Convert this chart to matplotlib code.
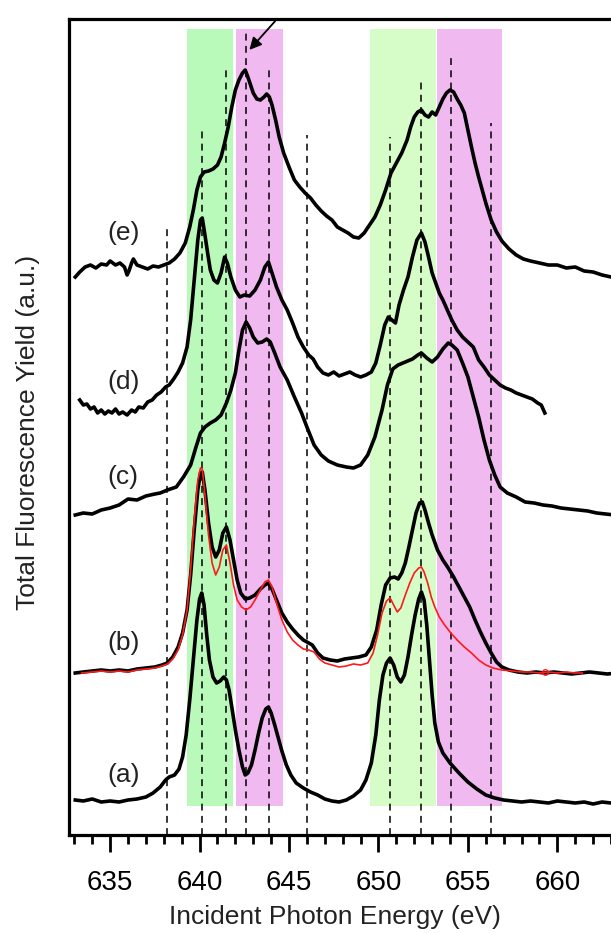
import numpy as np
import matplotlib
matplotlib.use("Agg")
import matplotlib.pyplot as plt
from matplotlib.ticker import MultipleLocator

plt.rcParams['font.family'] = ['Liberation Sans', 'DejaVu Sans']

# ---- spectra: energy (eV) and offset intensity (a.u.) ----
e_a = [633.05, 633.5, 634.0, 634.5, 635.0, 635.5, 636.0, 636.5, 637.0, 637.4, 637.8, 638.1,
       638.3, 638.6, 638.85, 639.05, 639.25, 639.45, 639.65, 639.85, 640.0, 640.12, 640.25,
       640.4, 640.55, 640.75, 640.95, 641.15, 641.35, 641.5, 641.65, 641.8, 642.0, 642.2,
       642.4, 642.55, 642.7, 642.9, 643.1, 643.3, 643.5, 643.7, 643.85, 644.0, 644.2, 644.4,
       644.6, 644.85, 645.1, 645.4, 645.8, 646.2, 646.6, 647.0, 647.4, 647.8, 648.2, 648.6,
       649.0, 649.3, 649.6, 649.85, 650.05, 650.25, 650.45, 650.65, 650.85, 651.05, 651.25,
       651.45, 651.65, 651.85, 652.05, 652.25, 652.4, 652.55, 652.7, 652.85, 653.0, 653.15,
       653.35, 653.6, 654.0, 654.5, 655.0, 655.5, 656.0, 656.5, 657.0, 657.5, 658.0, 658.5,
       659.0, 659.5, 660.0, 660.5, 661.0, 661.5, 662.0, 662.5, 663.0, 663.5, 664.9]
i_a = [0.35, 0.34, 0.36, 0.33, 0.34, 0.33, 0.35, 0.36, 0.38, 0.42, 0.48, 0.55,
       0.58, 0.60, 0.66, 0.78, 1.00, 1.35, 1.75, 2.15, 2.36, 2.42, 2.30,
       2.00, 1.75, 1.58, 1.52, 1.54, 1.58, 1.55, 1.45, 1.28, 1.05, 0.85,
       0.68, 0.60, 0.62, 0.70, 0.85, 1.02, 1.17, 1.26, 1.28, 1.22, 1.10, 0.97,
       0.84, 0.70, 0.60, 0.52, 0.47, 0.43, 0.40, 0.36, 0.34, 0.33, 0.35, 0.39,
       0.45, 0.55, 0.72, 1.00, 1.35, 1.60, 1.72, 1.77, 1.70, 1.58, 1.53,
       1.60, 1.78, 2.00, 2.20, 2.36, 2.43, 2.35, 2.10, 1.75, 1.40, 1.12,
       0.93, 0.82, 0.72, 0.62, 0.53, 0.46, 0.40, 0.37, 0.35, 0.34, 0.33, 0.34,
       0.33, 0.32, 0.34, 0.33, 0.32, 0.33, 0.31, 0.33, 0.32, 0.33, 0.33]

e_b = [633.05, 633.5, 634.0, 634.5, 635.0, 635.5, 636.0, 636.5, 637.0, 637.5, 637.9, 638.2,
       638.5, 638.8, 639.05, 639.3, 639.5, 639.7, 639.9, 640.05, 640.15, 640.3, 640.5, 640.7,
       640.9, 641.1, 641.3, 641.5, 641.7, 641.9, 642.1, 642.3, 642.55, 642.8, 643.1, 643.4,
       643.65, 643.85, 644.05, 644.3, 644.6, 644.9, 645.2, 645.5, 645.8, 646.0, 646.3, 646.6,
       646.9, 647.3, 647.7, 648.1, 648.5, 648.9, 649.3, 649.6, 649.9, 650.15, 650.4, 650.65,
       650.9, 651.1, 651.3, 651.5, 651.7, 651.9, 652.1, 652.3, 652.45, 652.6, 652.8, 653.0,
       653.3, 653.6, 653.9, 654.2, 654.5, 654.8, 655.1, 655.4, 655.7, 656.0, 656.3, 656.6,
       656.9, 657.3, 657.8, 658.3, 658.8, 659.3, 659.8, 660.3, 660.8, 661.3, 661.8, 662.3,
       662.8, 663.3, 664.9]
i_b = [1.62, 1.63, 1.64, 1.65, 1.64, 1.65, 1.64, 1.66, 1.67, 1.68, 1.70, 1.72,
       1.78, 1.88, 2.02, 2.25, 2.60, 3.05, 3.45, 3.62, 3.63, 3.45, 3.12, 2.88,
       2.78, 2.85, 3.02, 3.08, 2.95, 2.75, 2.55, 2.42, 2.36, 2.37, 2.40, 2.46,
       2.50, 2.52, 2.46, 2.35, 2.22, 2.13, 2.06, 2.00, 1.95, 1.93, 1.90, 1.82,
       1.77, 1.75, 1.74, 1.76, 1.77, 1.78, 1.80, 1.88, 2.05, 2.30, 2.50, 2.57,
       2.58, 2.56, 2.62, 2.72, 2.88, 3.05, 3.22, 3.32, 3.33, 3.25, 3.12, 3.00,
       2.85, 2.75, 2.67, 2.58, 2.48, 2.38, 2.28, 2.15, 2.03, 1.92, 1.82, 1.73,
       1.68, 1.65, 1.63, 1.62, 1.63, 1.62, 1.63, 1.62, 1.61, 1.62, 1.63, 1.62,
       1.61, 1.62, 1.62]

# red reference spectrum drawn over (b)
e_ref = [633.4, 634.0, 634.5, 635.0, 635.5, 636.0, 636.5, 637.0, 637.5, 637.9, 638.2, 638.5,
         638.8, 639.05, 639.3, 639.5, 639.7, 639.9, 640.05, 640.15, 640.3, 640.5, 640.7, 640.9,
         641.1, 641.3, 641.5, 641.7, 641.9, 642.1, 642.35, 642.6, 642.85, 643.1, 643.4, 643.65,
         643.85, 644.05, 644.3, 644.6, 644.9, 645.2, 645.5, 645.8, 646.1, 646.4, 646.7, 647.0,
         647.4, 647.8, 648.2, 648.6, 649.0, 649.4, 649.7, 649.95, 650.2, 650.45, 650.65, 650.85,
         651.05, 651.25, 651.5, 651.75, 652.0, 652.25, 652.4, 652.55, 652.75, 652.95, 653.15,
         653.4, 653.7, 654.0, 654.4, 654.8, 655.2, 655.6, 656.0, 656.4, 656.9, 657.5, 658.0,
         658.5, 659.0, 659.5, 660.0, 660.5, 661.0, 661.4]
i_ref = [1.62, 1.63, 1.64, 1.63, 1.64, 1.63, 1.65, 1.66, 1.67, 1.69, 1.71, 1.76,
         1.85, 2.00, 2.25, 2.65, 3.15, 3.55, 3.67, 3.66, 3.40, 3.00, 2.72, 2.60,
         2.68, 2.85, 2.90, 2.72, 2.50, 2.35, 2.28, 2.25, 2.28, 2.35, 2.45, 2.53,
         2.55, 2.48, 2.32, 2.15, 2.03, 1.95, 1.90, 1.86, 1.85, 1.83, 1.76, 1.72,
         1.70, 1.68, 1.69, 1.71, 1.70, 1.72, 1.82, 2.00, 2.22, 2.34, 2.37, 2.30,
         2.23, 2.27, 2.40, 2.52, 2.62, 2.67, 2.68, 2.63, 2.52, 2.38, 2.28,
         2.18, 2.10, 2.03, 1.95, 1.88, 1.82, 1.75, 1.70, 1.67, 1.65, 1.64, 1.63,
         1.63, 1.62, 1.63, 1.62, 1.63, 1.62, 1.62]

e_c = [633.05, 633.5, 634.0, 634.5, 635.0, 635.5, 636.0, 636.5, 637.0, 637.5, 637.8, 638.2,
       638.7, 639.1, 639.5, 639.8, 640.05, 640.3, 640.6, 640.9, 641.2, 641.5, 641.75, 642.0,
       642.2, 642.4, 642.6, 642.8, 643.0, 643.25, 643.5, 643.75, 643.95, 644.2, 644.5, 644.9,
       645.3, 645.7, 646.0, 646.4, 646.8, 647.2, 647.7, 648.2, 648.6, 649.0, 649.4, 649.8,
       650.2, 650.5, 650.8, 651.1, 651.5, 651.9, 652.2, 652.4, 652.7, 653.0, 653.3, 653.6,
       653.9, 654.1, 654.4, 654.7, 655.0, 655.3, 655.6, 655.9, 656.2, 656.5, 656.8, 657.2,
       657.7, 658.2, 658.7, 659.2, 659.7, 660.2, 660.7, 661.2, 661.7, 662.2, 662.7, 663.2,
       664.9]
i_c = [3.20, 3.22, 3.21, 3.25, 3.27, 3.30, 3.36, 3.35, 3.39, 3.41, 3.42, 3.45,
       3.48, 3.58, 3.70, 3.88, 4.02, 4.08, 4.12, 4.15, 4.20, 4.32, 4.45, 4.62,
       4.85, 5.05, 5.13, 5.07, 4.98, 4.92, 4.93, 4.96, 4.93, 4.82, 4.68, 4.55,
       4.38, 4.22, 4.08, 3.90, 3.80, 3.74, 3.70, 3.68, 3.67, 3.70, 3.80, 3.98,
       4.25, 4.50, 4.66, 4.70, 4.73, 4.76, 4.80, 4.82, 4.77, 4.73, 4.78, 4.86,
       4.92, 4.90, 4.85, 4.72, 4.58, 4.38, 4.18, 3.95, 3.75, 3.60, 3.48, 3.42,
       3.38, 3.33, 3.32, 3.30, 3.29, 3.27, 3.26, 3.25, 3.24, 3.22, 3.21, 3.20,
       3.19]

e_d = [633.3, 633.5, 633.7, 633.9, 634.1, 634.3, 634.5, 634.7, 634.9, 635.1, 635.3, 635.5,
       635.7, 635.95, 636.2, 636.4, 636.6, 636.85, 637.1, 637.35, 637.6, 637.85, 638.1, 638.3,
       638.55, 638.8, 639.05, 639.3, 639.5, 639.7, 639.9, 640.05, 640.15, 640.3, 640.45, 640.6,
       640.8, 641.0, 641.2, 641.4, 641.55, 641.75, 642.0, 642.25, 642.5, 642.8, 643.1, 643.4,
       643.65, 643.85, 644.05, 644.3, 644.6, 644.9, 645.2, 645.5, 645.8, 646.1, 646.35, 646.6,
       646.9, 647.2, 647.5, 647.8, 648.1, 648.4, 648.7, 649.0, 649.3, 649.6, 649.85, 650.1,
       650.35, 650.55, 650.75, 650.95, 651.15, 651.4, 651.65, 651.9, 652.15, 652.4, 652.6,
       652.8, 653.0, 653.2, 653.4, 653.6, 653.85, 654.1, 654.4, 654.7, 655.0, 655.3, 655.6,
       655.9, 656.2, 656.5, 656.8, 657.1, 657.4, 657.7, 658.0, 658.3, 658.6, 658.9, 659.1,
       659.3]
i_d = [4.35, 4.30, 4.31, 4.26, 4.28, 4.22, 4.25, 4.21, 4.24, 4.22, 4.26, 4.21,
       4.23, 4.20, 4.25, 4.23, 4.28, 4.27, 4.33, 4.35, 4.40, 4.43, 4.48, 4.50,
       4.56, 4.63, 4.72, 4.88, 5.15, 5.55, 5.95, 6.15, 6.17, 6.00, 5.82, 5.65,
       5.55, 5.52, 5.62, 5.78, 5.72, 5.58, 5.45, 5.38, 5.40, 5.39, 5.45, 5.55,
       5.68, 5.73, 5.62, 5.48, 5.35, 5.25, 5.12, 4.98, 4.88, 4.80, 4.76, 4.68,
       4.62, 4.60, 4.63, 4.59, 4.61, 4.63, 4.60, 4.58, 4.60, 4.63, 4.72, 4.90,
       5.10, 5.18, 5.15, 5.12, 5.30, 5.45, 5.58, 5.78, 5.95, 6.02, 5.93,
       5.78, 5.62, 5.52, 5.42, 5.35, 5.25, 5.15, 5.05, 4.98, 4.93, 4.88, 4.75,
       4.68, 4.60, 4.55, 4.50, 4.47, 4.45, 4.42, 4.40, 4.38, 4.36, 4.32, 4.30,
       4.22]

e_e = [633.05, 633.3, 633.6, 633.9, 634.2, 634.5, 634.8, 635.0, 635.3, 635.55, 635.8, 635.95,
       636.05, 636.2, 636.3, 636.5, 636.8, 637.1, 637.4, 637.7, 638.0, 638.3, 638.6, 638.9,
       639.2, 639.45, 639.65, 639.85, 640.05, 640.25, 640.5, 640.75, 641.0, 641.2, 641.4,
       641.6, 641.8, 642.0, 642.2, 642.4, 642.55, 642.7, 642.85, 643.0, 643.2, 643.4, 643.6,
       643.75, 643.9, 644.05, 644.25, 644.45, 644.7, 645.0, 645.3, 645.6, 645.9, 646.2, 646.5,
       646.8, 647.1, 647.4, 647.7, 648.0, 648.3, 648.6, 648.9, 649.2, 649.5, 649.8, 650.1,
       650.4, 650.7, 651.0, 651.3, 651.6, 651.8, 652.0, 652.2, 652.4, 652.6, 652.8, 653.0,
       653.2, 653.4, 653.6, 653.8, 654.0, 654.2, 654.4, 654.6, 654.8, 655.0, 655.2, 655.4,
       655.6, 655.8, 656.0, 656.3, 656.6, 656.9, 657.3, 657.7, 658.1, 658.5, 659.0, 659.5,
       660.0, 660.5, 661.0, 661.5, 662.0, 662.5, 663.0, 664.9]
i_e = [5.58, 5.63, 5.68, 5.70, 5.67, 5.71, 5.70, 5.74, 5.70, 5.72, 5.68, 5.60,
       5.64, 5.72, 5.76, 5.70, 5.68, 5.66, 5.69, 5.68, 5.70, 5.72, 5.76, 5.82,
       5.92, 6.08, 6.25, 6.45, 6.58, 6.63, 6.64, 6.66, 6.70, 6.78, 6.92,
       7.08, 7.28, 7.45, 7.55, 7.62, 7.65, 7.58, 7.50, 7.42, 7.36, 7.35, 7.38,
       7.41, 7.38, 7.30, 7.15, 6.98, 6.82, 6.68, 6.55, 6.48, 6.42, 6.37, 6.30,
       6.24, 6.19, 6.15, 6.08, 6.05, 6.02, 5.98, 5.97, 6.02, 6.10, 6.18, 6.30,
       6.45, 6.62, 6.72, 6.82, 6.95, 7.08, 7.18, 7.23, 7.25, 7.20, 7.18, 7.23,
       7.20, 7.28, 7.36, 7.42, 7.45, 7.43, 7.36, 7.30, 7.22, 7.05, 6.88, 6.72,
       6.58, 6.45, 6.32, 6.15, 6.03, 5.94, 5.86, 5.80, 5.76, 5.74, 5.72, 5.70,
       5.70, 5.67, 5.68, 5.64, 5.63, 5.60, 5.58, 5.57]

# dashed guide lines: energy and top of each line (a.u.)
guide_e = [638.2, 640.15, 641.5, 642.6, 643.9, 646.0, 650.65, 652.4, 654.05, 656.3]
guide_top = [6.07, 7.08, 7.68, 8.05, 7.70, 7.00, 6.98, 7.54, 7.82, 7.12]

# shaded regions (energy ranges) and colours
bands = [(639.28, 641.85), (642.04, 644.68), (649.55, 653.2), (653.3, 656.93)]
band_colors = ['#b9f9b9', '#f0b9f0', '#d6fcc8', '#f0b9f0']

labels = ['(a)', '(b)', '(c)', '(d)', '(e)']
label_y = [0.60, 1.92, 3.58, 4.53, 6.02]

fig = plt.figure(figsize=(6.11, 9.33), dpi=100)
ax = fig.add_axes([69 / 611, 98 / 933, 576 / 611, 816 / 933])
ax.set_xlim(632.7, 664.9)
ax.set_ylim(0, 8.16)

for (lo, hi), col in zip(bands, band_colors):
    ax.fill_between([lo, hi], 0.29, 8.06, color=col, lw=0, zorder=0)

for e, top in zip(guide_e, guide_top):
    ax.plot([e, e], [0, top], color='black', lw=1.1, ls=(0, (4.5, 3.5)), zorder=1)

for e, i in [(e_a, i_a), (e_b, i_b), (e_c, i_c), (e_d, i_d), (e_e, i_e)]:
    ax.plot(e, i, color='black', lw=2.6, zorder=3, solid_joinstyle='round')
ax.plot(e_ref, i_ref, color='#ff1a1a', lw=1.2, zorder=4)
ax.plot([659.3], [1.63], marker='o', ms=4, mfc='none', mec='#ff1a1a', mew=1.0, zorder=4)

for lab, y in zip(labels, label_y):
    ax.text(635.73, y, lab, fontsize=19, color='#222222', ha='center', va='center')

ax.annotate('', xy=(642.68, 7.83), xytext=(644.33, 8.16),
            arrowprops=dict(arrowstyle='-|>', color='black', lw=1.3, mutation_scale=18),
            annotation_clip=False)

for side in ['left', 'bottom', 'top', 'right']:
    ax.spines[side].set_linewidth(2.3)
ax.set_yticks([])
ax.xaxis.set_major_locator(MultipleLocator(5))
ax.xaxis.set_minor_locator(MultipleLocator(1))
ax.tick_params(axis='x', which='major', direction='out', length=12, width=2, labelsize=20, pad=13)
ax.tick_params(axis='x', which='minor', direction='out', length=6.5, width=2)

fig.text(28 / 611, 1 - 432 / 933, 'Total Fluorescence Yield (a.u.)', rotation=90,
         fontsize=19, ha='center', va='center', color='#222222')
fig.text(335 / 611, 1 - 917 / 933, 'Incident Photon Energy (eV)',
         fontsize=19, ha='center', va='center', color='#222222')

fig.savefig('out.png', dpi=100)
